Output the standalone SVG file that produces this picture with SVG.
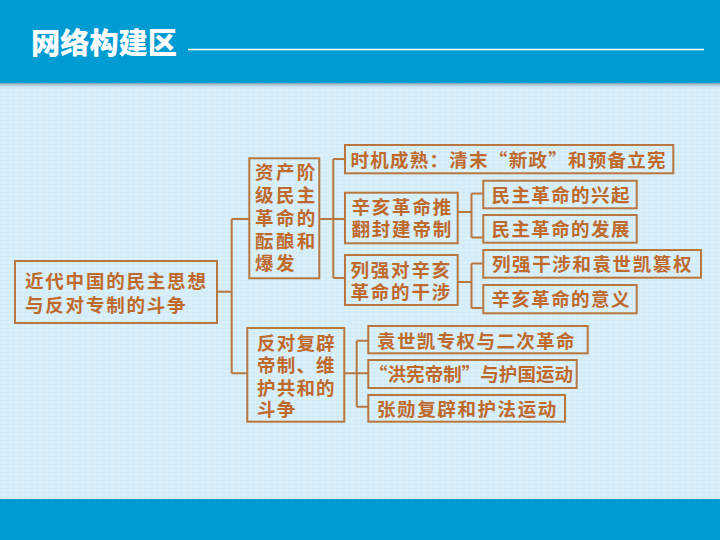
<svg xmlns="http://www.w3.org/2000/svg" width="720" height="540" viewBox="0 0 720 540">
<defs>
<style>
.box{fill:none;stroke:#B9773F;stroke-width:2}
.ln{fill:none;stroke:#B9773F;stroke-width:2}
.t{font-family:"Noto Sans CJK SC","Noto Sans CJK TC",sans-serif;font-size:18.5px;fill:#C0692D;font-weight:bold}
</style>
<pattern id="tex" width="6" height="4" patternUnits="userSpaceOnUse">
<rect width="6" height="4" fill="#D6EEF9"/>
<rect x="0" y="0" width="3" height="1" fill="#D0E9F5"/>
<rect x="3" y="2" width="3" height="1" fill="#DCF1FA"/>
</pattern>
<linearGradient id="sh" x1="0" y1="0" x2="0" y2="1">
<stop offset="0" stop-color="#7C9FB0"/>
<stop offset="1" stop-color="#D6EEF9" stop-opacity="0"/>
</linearGradient>
</defs>
<rect width="720" height="540" fill="url(#tex)"/>
<g id="header">
<rect x="0" y="0" width="720" height="83" fill="#009BD3"/>
<rect x="0" y="83" width="720" height="6" fill="url(#sh)"/>
<text x="31" y="54" style="font-family:'Noto Sans CJK SC',sans-serif;font-size:29px;font-weight:900;fill:#FFFFFF" textLength="146" lengthAdjust="spacingAndGlyphs">网络构建区</text>
<line x1="188" y1="49.5" x2="704" y2="49.5" stroke="#FFFFFF" stroke-width="1.5"/>
</g>
<rect id="footer" x="0" y="499" width="720" height="41" fill="#009BD3"/>
<g id="connectors">
<path class="ln" d="M217,291.7H231.7M231.7,219V373.3M231.7,219H249M231.7,373.3H247.3"/>
<path class="ln" d="M319.3,219H333.3M333.3,159V278M333.3,159H345M333.3,219H345M333.3,278H345"/>
<path class="ln" d="M457.7,212H471.5M471.5,193.5V237.5M471.5,193.5H483.3M471.5,237.5H483.3"/>
<path class="ln" d="M457.7,282H471.5M471.5,263.5V308M471.5,263.5H483.3M471.5,308H483.3"/>
<path class="ln" d="M344.3,373.3H368M356.7,340.7V406.7M356.7,340.7H368.3M356.7,406.7H368.3"/>
</g>
<g id="root">
<rect class="box" x="15" y="261" width="202" height="62"/>
<text class="t" letter-spacing="1.8"><tspan x="25" y="287.5">近代中国的民主思想</tspan><tspan x="25" y="312">与反对专制的斗争</tspan></text>
</g>
<g id="nodeA">
<rect class="box" x="249.3" y="158.3" width="70" height="120"/>
<text class="t" letter-spacing="2.4"><tspan x="255" y="179">资产阶</tspan><tspan x="255" y="202">级民主</tspan><tspan x="255" y="225">革命的</tspan><tspan x="255" y="247.5">酝酿和</tspan><tspan x="255" y="269.5">爆发</tspan></text>
</g>
<g id="nodeB">
<rect class="box" x="247.3" y="328" width="97" height="93.7"/>
<text class="t" letter-spacing="1.2"><tspan x="257" y="349.5">反对复辟</tspan><tspan x="257" y="372">帝制、维</tspan><tspan x="257" y="394.5">护共和的</tspan><tspan x="257" y="415.5">斗争</tspan></text>
</g>
<g id="nodeC1">
<rect class="box" x="345" y="145" width="328.3" height="28.3"/>
<text class="t" x="350.5" y="167" textLength="315" lengthAdjust="spacing">时机成熟：清末“新政”和预备立宪</text>
</g>
<g id="nodeC2">
<rect class="box" x="345" y="192.7" width="112.7" height="50.6"/>
<text class="t" letter-spacing="1.8"><tspan x="351.5" y="213.5">辛亥革命推</tspan><tspan x="351.5" y="236">翻封建帝制</tspan></text>
</g>
<g id="nodeC3">
<rect class="box" x="345" y="255" width="112.7" height="50"/>
<text class="t" letter-spacing="1.8"><tspan x="350.5" y="277">列强对辛亥</tspan><tspan x="350.5" y="298.5">革命的干涉</tspan></text>
</g>
<g id="nodeL1">
<rect class="box" x="483.3" y="180.7" width="153.4" height="27.6"/>
<text class="t" x="491.5" y="202" letter-spacing="1.4">民主革命的兴起</text>
</g>
<g id="nodeL2">
<rect class="box" x="483.3" y="215" width="153.4" height="27.7"/>
<text class="t" x="491.5" y="236.3" letter-spacing="1.4">民主革命的发展</text>
</g>
<g id="nodeL3">
<rect class="box" x="483.3" y="250" width="217.7" height="27.7"/>
<text class="t" x="492" y="271.3" letter-spacing="1.6">列强干涉和袁世凯篡权</text>
</g>
<g id="nodeL4">
<rect class="box" x="483.3" y="285" width="153.4" height="28.3"/>
<text class="t" x="491.5" y="306" letter-spacing="1.4">辛亥革命的意义</text>
</g>
<g id="nodeM1">
<rect class="box" x="368.3" y="326" width="219.4" height="27.3"/>
<text class="t" x="377" y="348" letter-spacing="1.4">袁世凯专权与二次革命</text>
</g>
<g id="nodeM2">
<rect class="box" x="368.3" y="360" width="208.4" height="28"/>
<text class="t" x="369" y="381" textLength="204" lengthAdjust="spacing">“洪宪帝制”与护国运动</text>
</g>
<g id="nodeM3">
<rect class="box" x="368.3" y="395" width="196.7" height="26.7"/>
<text class="t" x="377" y="416" letter-spacing="1.6">张勋复辟和护法运动</text>
</g>
</svg>
